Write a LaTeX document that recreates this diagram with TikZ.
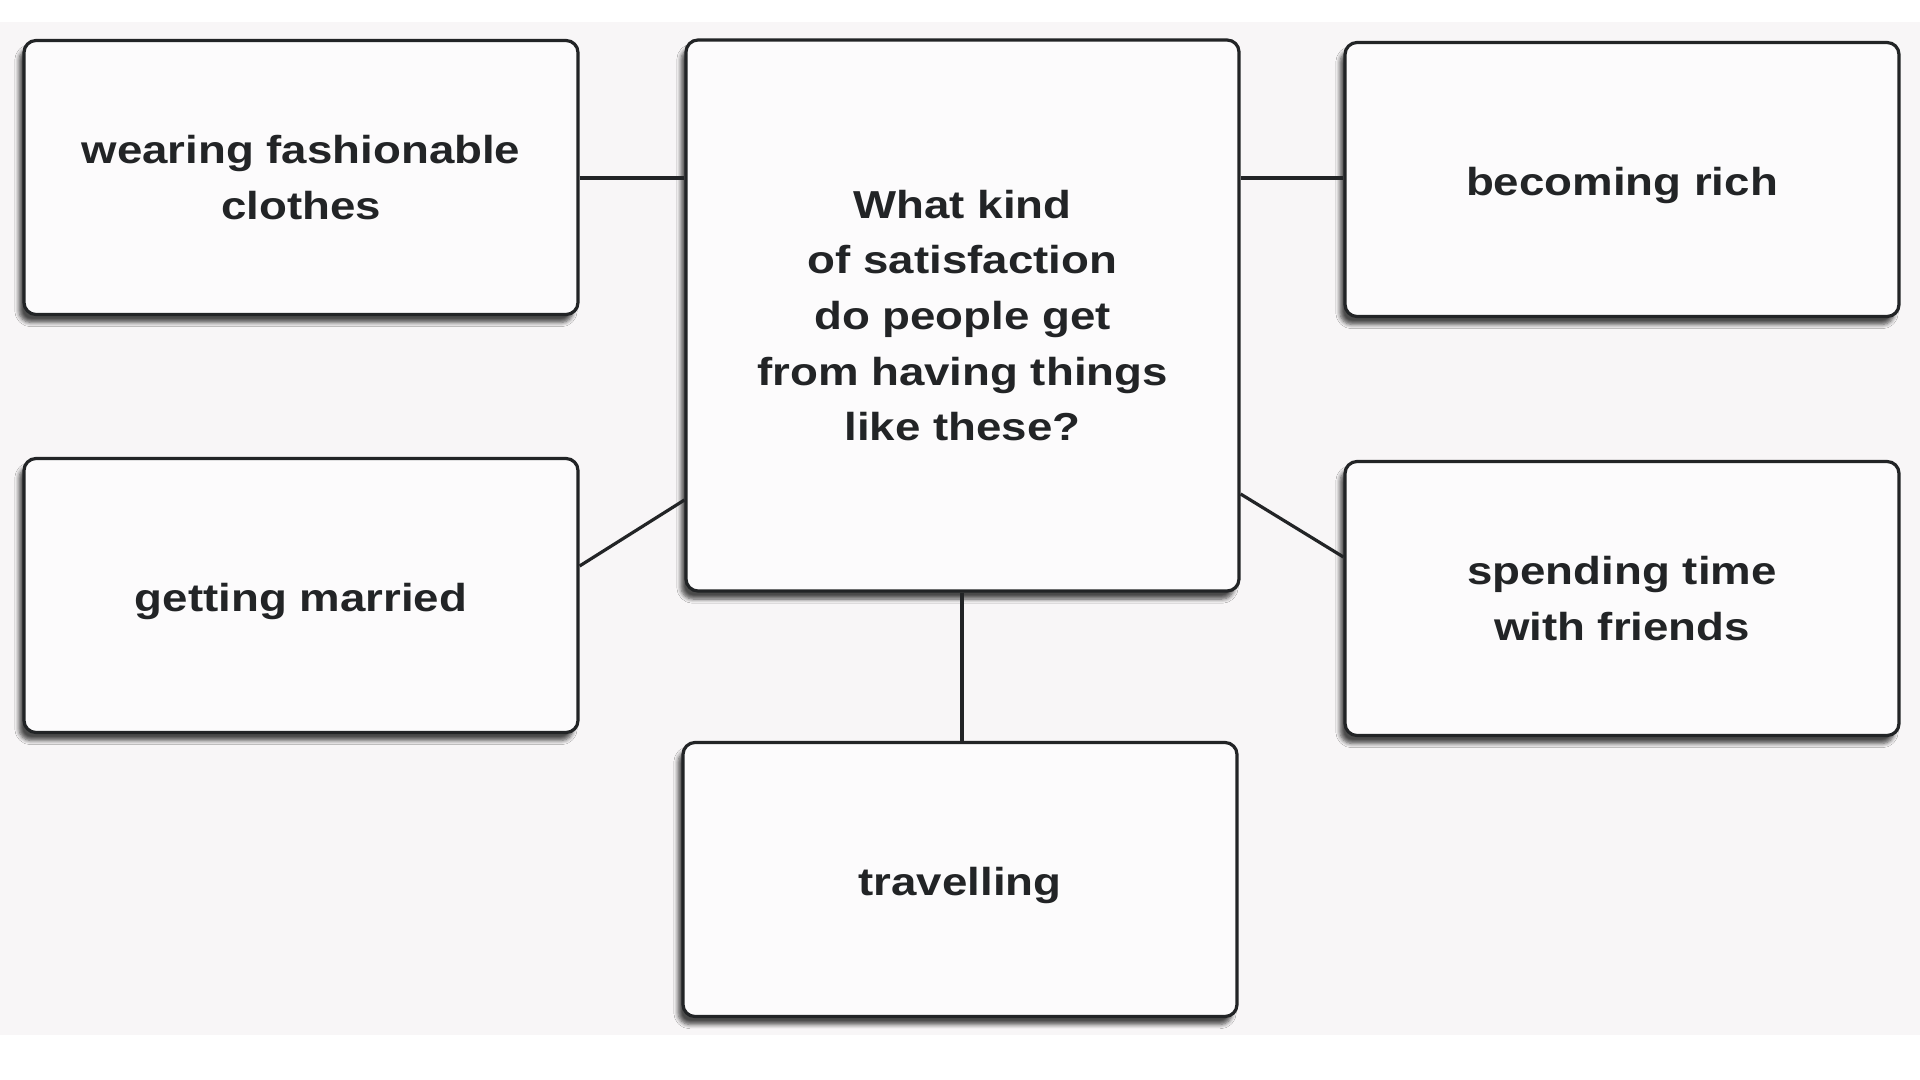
\documentclass[tikz,border=0pt]{standalone}
\usepackage{fontspec}
\setmainfont{Liberation Sans}[FakeStretch=1.17]
\usetikzlibrary{shadows.blur}
\definecolor{bgc}{HTML}{F8F6F7}
\definecolor{boxfill}{HTML}{FCFBFC}
\definecolor{ink}{HTML}{222426}
\tikzset{
  card/.style={draw=ink, line width=1.6pt, fill=boxfill, rounded corners=6pt,
    minimum width=277pt, minimum height=137pt, align=center, text=ink,
    font=\fontsize{19.5}{27.8}\selectfont\bfseries,
    blur shadow={shadow xshift=-2.5pt, shadow yshift=-4pt, shadow blur steps=6, shadow blur extra rounding=2pt, shadow opacity=70}},
  oneline/.style={text height=20pt, text depth=4pt},
  link/.style={draw=ink, line width=1.6pt}
}
\begin{document}
\begin{tikzpicture}[x=0.5pt,y=-0.5pt]
\useasboundingbox (0,0) rectangle (1920,1080);
\fill[white] (0,0) rectangle (1920,1080);
\fill[bgc] (0,22) rectangle (1920,1035);
\node[card] (tl) at (301,177.5) {wearing fashionable\\clothes};
\node[card, oneline] (tr) at (1622,179.5) {becoming rich};
\node[card, oneline] (ml) at (301,595.5) {getting married};
\node[card] (mr) at (1622,598.5) {spending time\\with friends};
\node[card, oneline] (bt) at (960,879.5) {travelling};
\node[card, minimum height=275.5pt, minimum width=276.5pt] (c) at (962.5,315.5) {What kind\\of satisfaction\\do people get\\from having things\\like these?};
\draw[link] (tl.east |- 0,178) -- (c.west |- 0,178);
\draw[link] (c.east |- 0,178) -- (tr.west |- 0,178);
\draw[link] (ml.east |- 0,566) -- (c.west |- 0,500);
\draw[link] (c.east |- 0,494) -- (mr.west |- 0,557);
\draw[link] (c.south -| 962,0) -- (bt.north -| 962,0);
\end{tikzpicture}
\end{document}
